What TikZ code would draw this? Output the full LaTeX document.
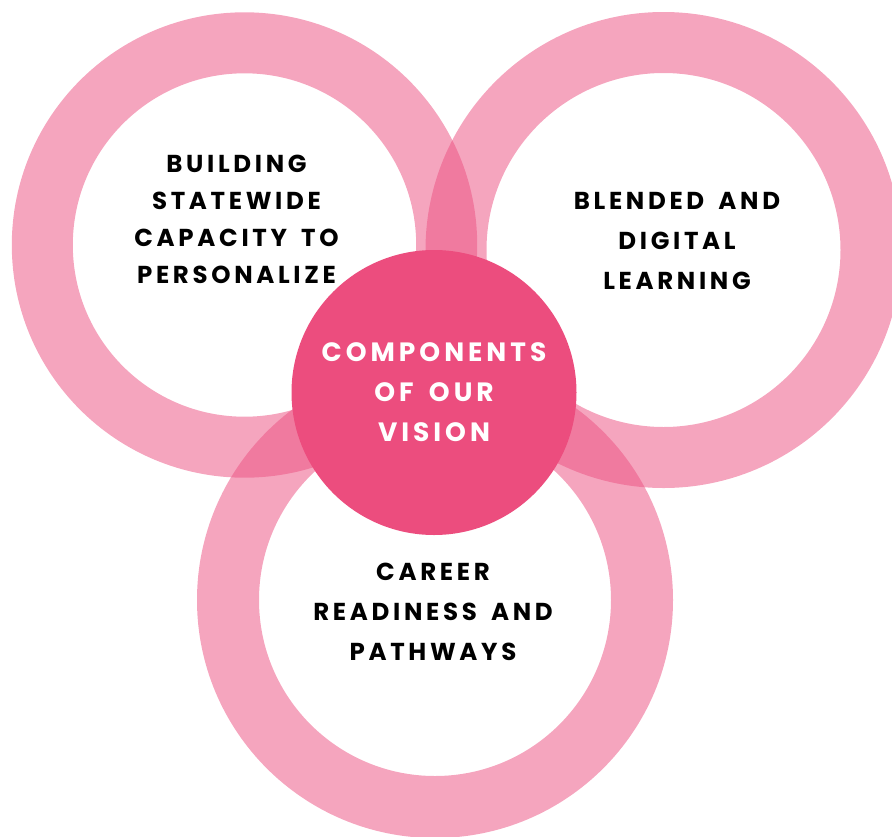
\documentclass[tikz,border=0pt]{standalone}
\usepackage{fontspec}
\setmainfont{Poppins}[LetterSpace=15,WordSpace=1.6]
\definecolor{ringpink}{RGB}{236,83,131}
\definecolor{corepink}{RGB}{236,77,126}
\begin{document}
\begin{tikzpicture}[x=1pt,y=-1pt,
  ring/.style={fill=ringpink,fill opacity=.52,even odd rule},
  label/.style={align=center,text=black,font=\fontsize{24.5}{37}\selectfont\bfseries},
  corelabel/.style={align=center,text=white,font=\fontsize{26.5}{40}\selectfont\bfseries}]
\useasboundingbox (0,0) rectangle (892,836);
\fill[ring] (244.5,245) circle (232.7) (244.5,245) circle (171.7);
\fill[ring] (663.5,250) circle (238) (663.5,250) circle (177);
\fill[ring] (435,600) circle (238) (435,600) circle (176);
\node[circle,fill=corepink,minimum size=285,inner sep=0,corelabel] (core) at (434,392.5) {COMPONENTS\\OF OUR\\VISION};
\node[label] (tl) at (236.5,219) {BUILDING\\STATEWIDE\\CAPACITY TO\\PERSONALIZE};
\node[label,font=\fontsize{24.5}{40}\selectfont\bfseries] (tr) at (677,240.5) {BLENDED AND\\DIGITAL\\LEARNING};
\node[label,font=\fontsize{24.5}{40}\selectfont\bfseries] (bt) at (433,612) {CAREER\\READINESS AND\\PATHWAYS};
\end{tikzpicture}
\end{document}
